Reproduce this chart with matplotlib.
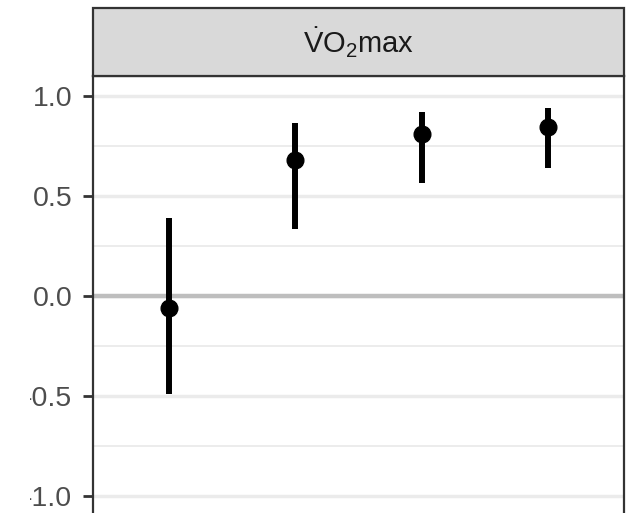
import numpy as np
import matplotlib
matplotlib.use("Agg")
import matplotlib.pyplot as plt
from matplotlib.patches import Rectangle

plt.rcParams['font.family'] = ['Liberation Sans', 'DejaVu Sans']
plt.rcParams['mathtext.fontset'] = 'custom'
plt.rcParams['mathtext.rm'] = 'Liberation Sans'
plt.rcParams['mathtext.it'] = 'Liberation Sans:italic'

# data
groups = [1, 2, 3, 4]
estimate = [-0.06, 0.68, 0.81, 0.845]
lower = [-0.49, 0.335, 0.565, 0.64]
upper = [0.39, 0.865, 0.92, 0.94]
yticks = [-1.0, -0.5, 0.0, 0.5, 1.0]
yminor = [-0.75, -0.25, 0.25, 0.75]
facet_title = r'$\dot{\mathrm{V}}\mathrm{O}_2$max'

W, H = 628, 513
fig = plt.figure(figsize=(W / 100, H / 100), dpi=100)

# panel from x=93..624 px, y=76..513 px (top-down)
ax = fig.add_axes([93 / W, 0, (624 - 93) / W, 1 - 76 / H])
ax.set_xlim(0.4, 4.6)
ax.set_ylim(-1.085, 1.10)

# grid
for v in yminor:
    ax.axhline(v, color='#EBEBEB', lw=1.3, zorder=0)
for v in yticks:
    ax.axhline(v, color='#EBEBEB', lw=2.5, zorder=0)
ax.axhline(0, color='#BEBEBE', lw=3.2, zorder=1)

# error bars and points
yerr = [np.array(estimate) - np.array(lower), np.array(upper) - np.array(estimate)]
ax.errorbar(groups, estimate, yerr=yerr, fmt='o', color='black',
            ms=12, elinewidth=4.3, capsize=0, zorder=3)

ax.set_xticks([])
ax.set_yticks(yticks)
ax.set_yticklabels([f'{v:.1f}' for v in yticks])
ax.tick_params(axis='y', length=7.5, width=2, color='#333333',
               labelsize=20.5, labelcolor='#4D4D4D', pad=7.5)
for side in ['left', 'right']:
    ax.spines[side].set_color('#333333')
    ax.spines[side].set_linewidth(1.6)
ax.spines['top'].set_color('#333333')
ax.spines['top'].set_linewidth(1.6)
ax.spines['bottom'].set_visible(False)

# the reference is cropped on the left edge, most of the minus signs are gone
fig.add_artist(Rectangle((0, 0), 30 / W, 1, transform=fig.transFigure,
                         facecolor='white', edgecolor='none', zorder=10))

# facet strip
strip = Rectangle((93 / W, 1 - 76 / H), (624 - 93) / W, (76 - 8) / H,
                  transform=fig.transFigure, facecolor='#D9D9D9',
                  edgecolor='#333333', lw=1.6)
fig.patches.append(strip)
fig.text((93 + 624) / 2 / W, 1 - 43 / H, facet_title, ha='center', va='center',
         fontsize=21, color='#1A1A1A')

fig.savefig('out.png', dpi=100)
